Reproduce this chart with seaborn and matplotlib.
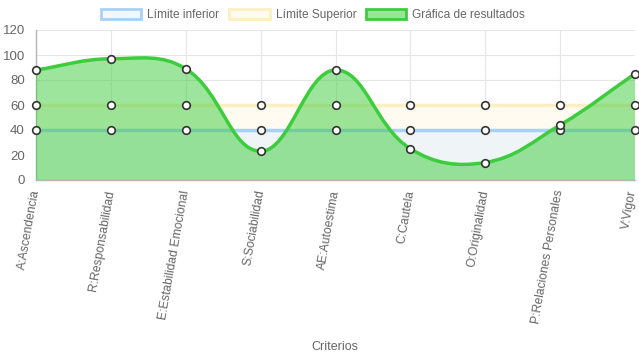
import numpy as np
import pandas as pd
import matplotlib
matplotlib.use('Agg')
import matplotlib.pyplot as plt
import matplotlib.transforms as mtransforms
from matplotlib.path import Path
from matplotlib.patches import PathPatch, Patch
import seaborn as sns

criterios = ["A:Ascendencia", "R:Responsabilidad", "E:Estabilidad Emocional",
             "S:Sociabilidad", "AE:Autoestima", "C:Cautela", "O:Originalidad",
             "P:Relaciones Personales", "V:Vigor"]
resultados = [88, 97, 89, 23, 88, 25, 14, 44, 85]
limite_inferior = [40, 40, 40, 40, 40, 40, 40, 40, 40]
limite_superior = [60, 60, 60, 60, 60, 60, 60, 60, 60]

sns.set_theme(style='white')
plt.rcParams['font.family'] = ['Liberation Sans', 'DejaVu Sans']

df = pd.DataFrame({'x': np.arange(len(criterios)), 'criterio': criterios,
                   'res': resultados, 'inf': limite_inferior, 'sup': limite_superior})

fig = plt.figure(figsize=(6.39, 3.6), dpi=100)
ax = fig.add_axes([36 / 639, 180 / 360, 599 / 639, 150 / 360])
ax.set_xlim(0, len(criterios) - 1)
ax.set_ylim(0, 120)

c_blue = '#a9d1f6'
c_yellow = '#fcefc2'
c_green = '#3dcc3d'
gray = '#666666'

# bandas de fondo
ax.fill_between(df['x'], 0, df['inf'], color='#eff5f6', lw=0, zorder=1)
ax.fill_between(df['x'], df['inf'], df['sup'], color='#fffbf0', lw=0, zorder=1)

sns.lineplot(data=df, x='x', y='inf', color=c_blue, lw=2.5, ax=ax, zorder=2)
sns.lineplot(data=df, x='x', y='sup', color=c_yellow, lw=2.5, ax=ax, zorder=2)

# curva suavizada tipo chart.js (tension 0.4) en espacio de pixeles
sx, sy = 599 / 8, 150 / 120
pts = np.column_stack([df['x'] * sx, df['res'] * sy]).astype(float)
t = 0.4
n = len(pts)
cp_prev = pts.copy()
cp_next = pts.copy()
for i in range(n):
    prev = pts[max(i - 1, 0)]
    cur = pts[i]
    nxt = pts[min(i + 1, n - 1)]
    d01 = np.hypot(*(cur - prev))
    d12 = np.hypot(*(nxt - cur))
    tot = d01 + d12
    s01 = d01 / tot if tot else 0
    s12 = d12 / tot if tot else 0
    cp_prev[i] = cur - t * s01 * (nxt - prev)
    cp_next[i] = cur + t * s12 * (nxt - prev)
cp_prev[:, 1] = np.clip(cp_prev[:, 1], 0, 120 * sy)
cp_next[:, 1] = np.clip(cp_next[:, 1], 0, 120 * sy)

def to_data(p):
    return (p[0] / sx, p[1] / sy)

verts = [to_data(pts[0])]
codes = [Path.MOVETO]
for i in range(n - 1):
    verts += [to_data(cp_next[i]), to_data(cp_prev[i + 1]), to_data(pts[i + 1])]
    codes += [Path.CURVE4] * 3
curve = Path(verts, codes)
fill_path = Path([(0, 0)] + verts + [(n - 1, 0), (0, 0)],
                 [Path.MOVETO, Path.LINETO] + codes[1:] + [Path.LINETO, Path.CLOSEPOLY])
ax.add_patch(PathPatch(fill_path, facecolor=c_green, alpha=0.5, lw=0, zorder=3))
ax.add_patch(PathPatch(curve, facecolor='none', edgecolor=c_green, lw=2.5, zorder=4))

for col in ['inf', 'sup', 'res']:
    sns.scatterplot(data=df, x='x', y=col, s=30, color='white', edgecolor='#333333',
                    linewidth=1.2, ax=ax, zorder=5, clip_on=False)

# etiquetas del eje x como textos rotados
ax.set_xticks(df['x'])
ax.set_xticklabels([])
for i, name in enumerate(criterios):
    dx = -2.5 if i == len(criterios) - 1 else 0
    off = mtransforms.ScaledTranslation(dx / 100, -10 / 100, fig.dpi_scale_trans)
    ax.text(i, 0, name, transform=ax.get_xaxis_transform() + off, rotation=80,
            ha='right', va='center', rotation_mode='anchor', fontsize=8.7, color=gray)

ax.set_yticks(range(0, 121, 20))
ax.tick_params(axis='y', labelsize=9.5, labelcolor=gray, length=6, color='#dddddd', pad=2)
ax.tick_params(axis='x', length=8, color='#dddddd', pad=0)
ax.grid(True, color='#e6e6e6', lw=0.8)
ax.set_axisbelow(True)
for s in ['top', 'right']:
    ax.spines[s].set_visible(False)
for s in ['left', 'bottom']:
    ax.spines[s].set_color('#b5b5b5')
    ax.spines[s].set_linewidth(1)
ax.set_xlabel('')
ax.set_ylabel('')
fig.text(335 / 639, 1 - 347 / 360, 'Criterios', ha='center', va='center',
         fontsize=9, color=gray)

handles = [Patch(facecolor='#f0f7fe', edgecolor=c_blue, lw=2),
           Patch(facecolor='#fffbf0', edgecolor=c_yellow, lw=2),
           Patch(facecolor='#98e598', edgecolor=c_green, lw=2)]
fig.legend(handles, ['Límite inferior', 'Límite Superior', 'Gráfica de resultados'],
           loc='center', bbox_to_anchor=(313 / 639, 1 - 15 / 360), ncol=3, frameon=False,
           fontsize=8.6, labelcolor=gray, handlelength=3.4, handleheight=0.9,
           columnspacing=0.8, handletextpad=0.5)

fig.savefig('out.png', dpi=100)
